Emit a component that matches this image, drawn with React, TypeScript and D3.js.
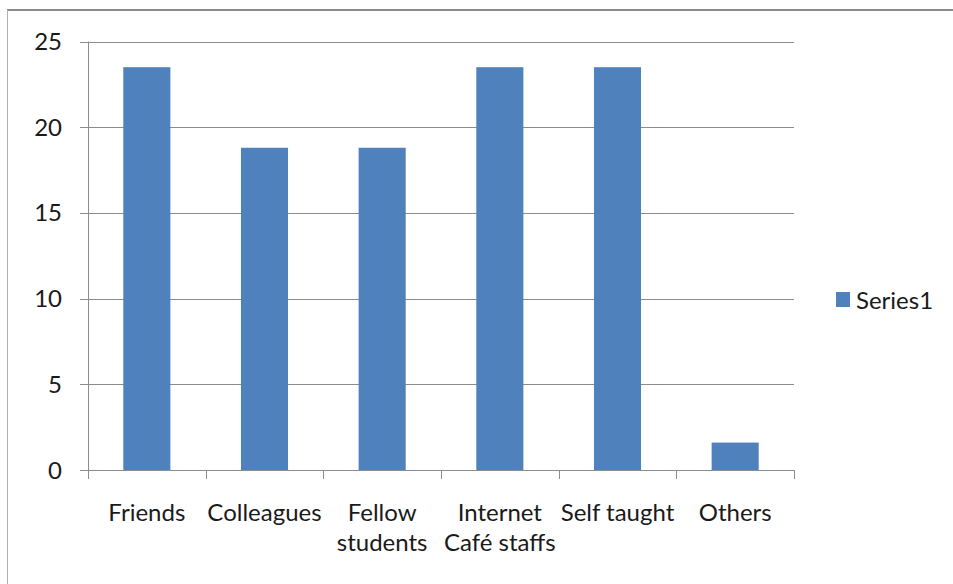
import { useEffect, useRef } from "react";
import * as d3 from "d3";

const categories = [
    ["Friends"],
    ["Colleagues"],
    ["Fellow", "students"],
    ["Internet", "Café staffs"],
    ["Self taught"],
    ["Others"],
];
const values = [23.5, 18.8, 18.8, 23.5, 23.5, 1.6];
const yTicks = [0, 5, 10, 15, 20, 25];
const seriesName = "Series1";

const width = 953;
const height = 584;
const font = "Lato, 'Open Sans', sans-serif";

export default function App() {
    const ref = useRef<SVGSVGElement | null>(null);

    useEffect(() => {
        const svg = d3.select(ref.current);
        svg.selectAll("*").remove();

        const margin = { top: 41.5, right: 159, bottom: 114, left: 88 };
        const keys = categories.map((c) => c.join(" "));

        const x = d3
            .scaleBand<string>()
            .domain(keys)
            .range([margin.left, width - margin.right])
            .paddingInner(0.6)
            .paddingOuter(0.3);
        const band = d3
            .scaleBand<string>()
            .domain(keys)
            .range([margin.left, width - margin.right]);
        const y = d3
            .scaleLinear()
            .domain([0, 25])
            .range([height - margin.bottom, margin.top]);

        //outer frame
        svg.append("line")
            .attr("x1", 7)
            .attr("x2", width)
            .attr("y1", 10)
            .attr("y2", 10)
            .attr("stroke", "#8a8a8a")
            .attr("stroke-width", 2);
        svg.append("line")
            .attr("x1", 7.5)
            .attr("x2", 7.5)
            .attr("y1", 10)
            .attr("y2", height)
            .attr("stroke", "#b0b0b0")
            .attr("stroke-width", 1);

        //gridlines
        svg.append("g")
            .selectAll("line")
            .data(yTicks)
            .join("line")
            .attr("x1", margin.left - 8)
            .attr("x2", width - margin.right)
            .attr("y1", (d) => Math.round(y(d)) + 0.5)
            .attr("y2", (d) => Math.round(y(d)) + 0.5)
            .attr("stroke", "#8c8c8c")
            .attr("stroke-width", 1);

        //y axis line
        svg.append("line")
            .attr("x1", margin.left + 0.5)
            .attr("x2", margin.left + 0.5)
            .attr("y1", y(25))
            .attr("y2", y(0))
            .attr("stroke", "#8c8c8c");

        //category ticks
        const bounds = keys.map((k) => band(k) ?? 0).concat([width - margin.right]);
        svg.append("g")
            .selectAll("line")
            .data(bounds)
            .join("line")
            .attr("x1", (d) => Math.round(d) + 0.5)
            .attr("x2", (d) => Math.round(d) + 0.5)
            .attr("y1", y(0))
            .attr("y2", y(0) + 9)
            .attr("stroke", "#8c8c8c");

        //bars
        svg.append("g")
            .selectAll("rect")
            .data(values)
            .join("rect")
            .attr("x", (d, i) => x(keys[i]) ?? 0)
            .attr("y", (d) => y(d))
            .attr("width", x.bandwidth())
            .attr("height", (d) => y(0) - y(d))
            .attr("fill", "#4f81bd");

        //y labels
        svg.append("g")
            .selectAll("text")
            .data(yTicks)
            .join("text")
            .attr("x", 62)
            .attr("y", (d) => y(d) + 8.5)
            .attr("text-anchor", "end")
            .attr("font-family", font)
            .attr("font-size", 24)
            .attr("fill", "#1a1a1a")
            .text((d) => d);

        //x labels
        const xl = svg
            .append("g")
            .selectAll("text")
            .data(categories)
            .join("text")
            .attr("text-anchor", "middle")
            .attr("font-family", font)
            .attr("font-size", 24)
            .attr("fill", "#1a1a1a");
        xl.each(function (lines, i) {
            const cx = (band(keys[i]) ?? 0) + band.bandwidth() / 2;
            d3.select(this)
                .selectAll("tspan")
                .data(lines)
                .join("tspan")
                .attr("x", cx)
                .attr("y", (d, j) => 521 + j * 30)
                .text((d) => d);
        });

        //legend
        svg.append("rect")
            .attr("x", 836)
            .attr("y", 292)
            .attr("width", 14)
            .attr("height", 15)
            .attr("fill", "#4f81bd");
        svg.append("text")
            .attr("x", 856)
            .attr("y", 308.5)
            .attr("font-family", font)
            .attr("font-size", 24)
            .attr("fill", "#1a1a1a")
            .text(seriesName);
    }, []);

    return (
        <div style={{ position: "fixed", left: 0, top: 0 }}>
            <svg ref={ref} width={width} height={height} style={{ display: "block", background: "#fff" }} />
        </div>
    );
}
